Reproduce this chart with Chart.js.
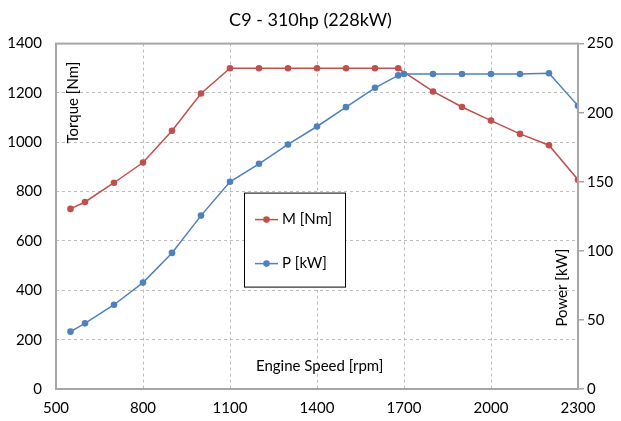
<!DOCTYPE html>
<html>
<head>
<meta charset="utf-8">
<script src="https://cdn.jsdelivr.net/npm/chart.js@4"></script>
<style>
  html, body { margin: 0; padding: 0; background: #fff; }
  #wrap { width: 621px; height: 421px; }
</style>
</head>
<body>
<div id="wrap"><canvas id="chart"></canvas></div>
<script>
// --- data ---
const torqueRpm = [550, 600, 700, 800, 900, 1000, 1100, 1200, 1300, 1400, 1500, 1600, 1680, 1800, 1900, 2000, 2100, 2200, 2300];
const torqueNm = [730, 758, 836, 918, 1047, 1198, 1300, 1300, 1300, 1300, 1300, 1300, 1300, 1206, 1143, 1088, 1034, 988, 848];
const powerRpm = [550, 600, 700, 800, 900, 1000, 1100, 1200, 1300, 1400, 1500, 1600, 1680, 1700, 1800, 1900, 2000, 2100, 2200, 2300];
const powerKw = [41.5, 47.5, 61, 77, 98.5, 125.5, 150, 163, 177, 190, 204, 218, 227, 228, 228, 228, 228, 228, 228.5, 205];
const xTicks = [500, 800, 1100, 1400, 1700, 2000, 2300];
const torqueTicks = [0, 200, 400, 600, 800, 1000, 1200, 1400];
const powerTicks = [0, 50, 100, 150, 200, 250];

const RED = '#c0504d';
const BLUE = '#4f81bd';
const FONT = 'Lato, "DejaVu Sans", sans-serif';

function toPoints(xs, ys) {
    return xs.map((x, i) => ({ x: x, y: ys[i] }));
}

// frame, axis titles inside the plot and the boxed legend
const overlay = {
    id: 'overlay',
    afterDatasetsDraw(chart) {
        const ctx = chart.ctx;
        const a = chart.chartArea;
        ctx.save();
        ctx.strokeStyle = '#a6a6a6';
        ctx.lineWidth = 2;
        ctx.strokeRect(a.left, a.top, a.right - a.left, a.bottom - a.top);

        ctx.fillStyle = '#000';
        ctx.font = '15px ' + FONT;
        ctx.textAlign = 'center';
        ctx.textBaseline = 'middle';
        ctx.fillText('Engine Speed [rpm]', a.left + (a.right - a.left) * 0.505, a.bottom - 23);

        ctx.save();
        ctx.translate(a.left + 17, a.top + 59);
        ctx.rotate(-Math.PI / 2);
        ctx.fillText('Torque [Nm]', 0, 0);
        ctx.restore();

        ctx.save();
        ctx.translate(a.right - 16, a.top + 244);
        ctx.rotate(-Math.PI / 2);
        ctx.fillText('Power [kW]', 0, 0);
        ctx.restore();

        // legend box
        const lx = a.left + 188, ly = a.top + 149, lw = 101, lh = 94;
        ctx.fillStyle = '#fff';
        ctx.fillRect(lx, ly, lw, lh);
        ctx.strokeStyle = '#000';
        ctx.lineWidth = 1;
        ctx.strokeRect(lx + 0.5, ly + 0.5, lw, lh);
        const items = [[RED, 'M [Nm]', ly + 27], [BLUE, 'P [kW]', ly + 71]];
        items.forEach(([c, label, y]) => {
            ctx.strokeStyle = c;
            ctx.lineWidth = 1.5;
            ctx.beginPath();
            ctx.moveTo(lx + 11, y);
            ctx.lineTo(lx + 34, y);
            ctx.stroke();
            ctx.fillStyle = c;
            ctx.beginPath();
            ctx.arc(lx + 22.5, y, 3.3, 0, Math.PI * 2);
            ctx.fill();
            ctx.fillStyle = '#000';
            ctx.textAlign = 'left';
            ctx.fillText(label, lx + 38, y);
        });
        ctx.restore();
    }
};

const plain = (v) => String(v);

new Chart(document.getElementById('chart'), {
    type: 'line',
    data: {
        datasets: [
            {
                label: 'M [Nm]',
                data: toPoints(torqueRpm, torqueNm),
                yAxisID: 'y',
                borderColor: RED,
                backgroundColor: RED,
                borderWidth: 1.5,
                pointRadius: 3.3,
                pointBorderWidth: 0,
                order: 2
            },
            {
                label: 'P [kW]',
                data: toPoints(powerRpm, powerKw),
                yAxisID: 'y1',
                borderColor: BLUE,
                backgroundColor: BLUE,
                borderWidth: 1.5,
                pointRadius: 3.3,
                pointBorderWidth: 0,
                order: 1
            }
        ]
    },
    options: {
        responsive: true,
        maintainAspectRatio: false,
        animation: false,
        layout: { padding: 0 },
        plugins: {
            legend: { display: false },
            tooltip: { enabled: false },
            title: {
                display: true,
                text: 'C9 - 310hp (228kW)',
                color: '#000',
                font: { family: FONT, size: 18, weight: 'normal' },
                padding: { top: 9, bottom: 13 }
            }
        },
        scales: {
            x: {
                type: 'linear',
                min: 500,
                max: 2300,
                afterBuildTicks: (s) => { s.ticks = xTicks.map(v => ({ value: v })); },
                afterFit: (s) => { s.height = 32; },
                ticks: { color: '#000', font: { family: FONT, size: 15 }, padding: 10, maxRotation: 0, callback: plain },
                grid: { color: '#bdbdbd', drawTicks: false },
                border: { display: false, dash: [3, 3] }
            },
            y: {
                position: 'left',
                min: 0,
                max: 1400,
                afterBuildTicks: (s) => { s.ticks = torqueTicks.map(v => ({ value: v })); },
                afterFit: (s) => { s.width = 56; },
                ticks: { color: '#000', font: { family: FONT, size: 15 }, padding: 14, callback: plain },
                grid: { color: '#bdbdbd', drawTicks: false },
                border: { display: false, dash: [3, 3] }
            },
            y1: {
                position: 'right',
                min: 0,
                max: 250,
                afterBuildTicks: (s) => { s.ticks = powerTicks.map(v => ({ value: v })); },
                afterFit: (s) => { s.width = 43; },
                ticks: { color: '#000', font: { family: FONT, size: 15 }, padding: 3, callback: plain },
                grid: { drawOnChartArea: false, drawTicks: true, tickLength: 6, color: '#a6a6a6', lineWidth: 1.5 },
                border: { display: false }
            }
        }
    },
    plugins: [overlay]
});
</script>
</body>
</html>
